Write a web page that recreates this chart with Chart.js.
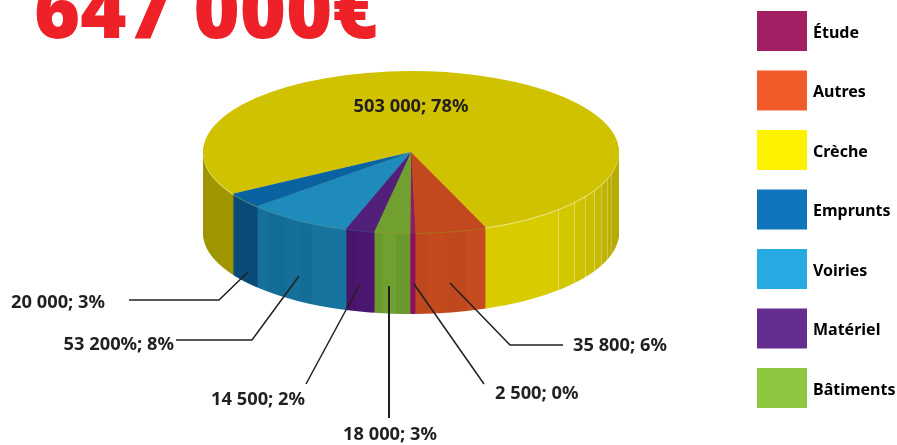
<!DOCTYPE html>
<html lang="fr">
<head>
<meta charset="utf-8">
<title>647 000€</title>
<style>html,body{margin:0;padding:0;background:#fff}canvas{display:block}</style>
<script src="https://cdn.jsdelivr.net/npm/chart.js@4"></script>
</head>
<body>
<canvas id="c" width="897" height="445"></canvas>
<script>
// Data (clockwise order from the rotation start)
const categories = ['Crèche', 'Autres', 'Étude', 'Bâtiments', 'Matériel', 'Voiries', 'Emprunts'];
const values = [503000, 35800, 2500, 18000, 14500, 53200, 20000];
const sliceLabels = ['503 000; 78%', '35 800; 6%', '2 500; 0%', '18 000; 3%', '14 500; 2%', '53 200%; 8%', '20 000; 3%'];
const legendOrder = ['Étude', 'Autres', 'Crèche', 'Emprunts', 'Voiries', 'Matériel', 'Bâtiments'];
const totalTitle = '647 000€';

// Styles
const topColors = ['#D0C200', '#C2491E', '#8E1F66', '#71A031', '#52207A', '#1F8BBB', '#0B62A0'];
const legendColors = ['#FFF200', '#F15A29', '#A31F63', '#8DC63F', '#662D91', '#27AAE1', '#0F75BC'];
const rimColors = ['#EDE88C', '#A8701C', '#7A2060', '#8A9A2C', '#3F3A7A', '#3A8FA8', '#5F8F6A'];
// bands along x in page pixels: [x where band starts, colour]
const sideBands = [
  [[190,'#9E9500'],[400,'#D8CC00'],[558,'#E4DC60'],[559,'#D3C700'],[574,'#E0D860'],[575,'#CFC300'],[585,'#DDD560'],[586,'#CBBF00'],[594,'#D8D060'],[595,'#C6BA00'],[601,'#D0C860'],[602,'#C1B500'],[607,'#CCC460'],[608,'#BCB000'],[611,'#C4BC50'],[612,'#B7AB00']],
  [[410,'#BF471D'],[428,'#C44A1E'],[446,'#C0481D'],[466,'#C64B1E']],
  [[400,'#8A0F5E']],
  [[360,'#6A9A2F'],[383,'#70A030'],[396,'#68982E']],
  [[340,'#47146A'],[356,'#4B1670']],
  [[250,'#15709A'],[268,'#136C96'],[286,'#156F99'],[300,'#126E97'],[312,'#17729C'],[326,'#16749E']],
  [[220,'#084A78']]
];
const layout3d = { cx: 411, cy: 152, rx: 208, ry: 81, depth: 81, rotation: 239 };
const inkColor = '#231F20';
const labelFont = '700 18.3px "Noto Sans"';
const callouts = [
  { text: [411, 107], align: 'center', line: null },
  { text: [573, 346], align: 'left', line: [[563,345],[510,345],[450,283]] },
  { text: [495, 394], align: 'left', line: [[484,384],[414,284]] },
  { text: [390, 435], align: 'center', line: [[389,418],[389,286]], width: 2 },
  { text: [305, 400], align: 'right', line: [[306,384],[360,284]] },
  { text: [174, 345], align: 'right', line: [[176,340],[252,340],[299,276]] },
  { text: [105, 303], align: 'right', line: [[129,300],[219,300],[248,272]] }
];

function bandGradient(ctx, bands, offset) {
  const x0 = 190, x1 = 630;
  const g = ctx.createLinearGradient(x0 + offset, 0, x1 + offset, 0);
  bands.forEach((b, i) => {
    const s = Math.max(0, (b[0] - x0) / (x1 - x0));
    const e = i + 1 < bands.length ? (bands[i + 1][0] - x0) / (x1 - x0) : 1;
    g.addColorStop(s, b[1]);
    g.addColorStop(e, b[1]);
  });
  return g;
}

function enterPlane(ctx, arc, dy) {
  ctx.translate(layout3d.cx, layout3d.cy + dy);
  ctx.scale(1, layout3d.ry / layout3d.rx);
  ctx.translate(-arc.x, -arc.y);
}

function drawWith(ctx, arc, fill) {
  const ghost = Object.create(arc);
  ghost.options = Object.assign(Object.create(arc.options), { backgroundColor: fill, borderWidth: 0 });
  arc.draw.call(ghost, ctx);
}

const pie3d = {
  id: 'pie3d',
  beforeDatasetDraw(chart, args) {
    const ctx = chart.ctx;
    const arcs = args.meta.data;
    const offset = arcs[0].x - layout3d.cx;
    const fills = sideBands.map(b => bandGradient(ctx, b, offset));
    for (let d = layout3d.depth; d >= 1; d--) {
      ctx.save();
      enterPlane(ctx, arcs[0], d);
      arcs.forEach((arc, i) => drawWith(ctx, arc, d === 1 ? rimColors[i] : fills[i]));
      ctx.restore();
    }
    ctx.save();
    enterPlane(ctx, arcs[0], 0);
  },
  afterDatasetDraw(chart) {
    chart.ctx.restore();
  },
  afterLayout(chart) {
    const legend = chart.legend;
    const p = legend.options.labels.padding;
    legend.left = 757 - p;
    legend.top = 11 - p;
    if (!legend.nudged) {
      legend.nudged = true;
      const ctx = chart.ctx;
      const baseDraw = legend.draw;
      legend.draw = function (area) {
        const fill = ctx.fillText;
        ctx.fillText = (t, x, y) => fill.call(ctx, t, x - 2, y + 2);
        baseDraw.call(this, area);
        delete ctx.fillText;
      };
    }
  },
  afterDatasetsDraw(chart) {
    const ctx = chart.ctx;
    ctx.save();
    ctx.fillStyle = '#EE2129';
    ctx.font = '800 79px "Open Sans"';
    ctx.textAlign = 'left';
    ctx.textBaseline = 'alphabetic';
    ctx.fillText(totalTitle, 34, 38);

    ctx.strokeStyle = inkColor;
    ctx.lineJoin = 'miter';
    callouts.forEach(c => {
      if (!c.line) return;
      ctx.lineWidth = c.width || 1.5;
      ctx.beginPath();
      c.line.forEach((p, i) => i ? ctx.lineTo(p[0], p[1]) : ctx.moveTo(p[0], p[1]));
      ctx.stroke();
    });
    ctx.fillStyle = inkColor;
    ctx.font = labelFont;
    ctx.textBaseline = 'middle';
    callouts.forEach((c, i) => {
      ctx.textAlign = c.align;
      ctx.fillText(sliceLabels[i], c.text[0], c.text[1]);
    });
    ctx.restore();
  }
};

new Chart(document.getElementById('c'), {
  type: 'pie',
  data: {
    labels: categories,
    datasets: [{ data: values, backgroundColor: topColors, borderWidth: 0, clip: false }]
  },
  options: {
    responsive: false,
    animation: false,
    radius: layout3d.rx,
    rotation: layout3d.rotation,
    events: [],
    plugins: {
      title: { display: false },
      tooltip: { enabled: false },
      legend: {
        position: 'right',
        align: 'start',
        labels: {
          boxWidth: 50,
          boxHeight: 40,
          padding: 19.5,
          color: inkColor,
          font: { family: '"Noto Sans"', weight: '700', size: 16 },
          generateLabels() {
            return legendOrder.map(name => {
              const i = categories.indexOf(name);
              return { text: name, fillStyle: legendColors[i], strokeStyle: legendColors[i], lineWidth: 0, index: i, hidden: false };
            });
          }
        }
      }
    }
  },
  plugins: [pie3d]
});
</script>
</body>
</html>
